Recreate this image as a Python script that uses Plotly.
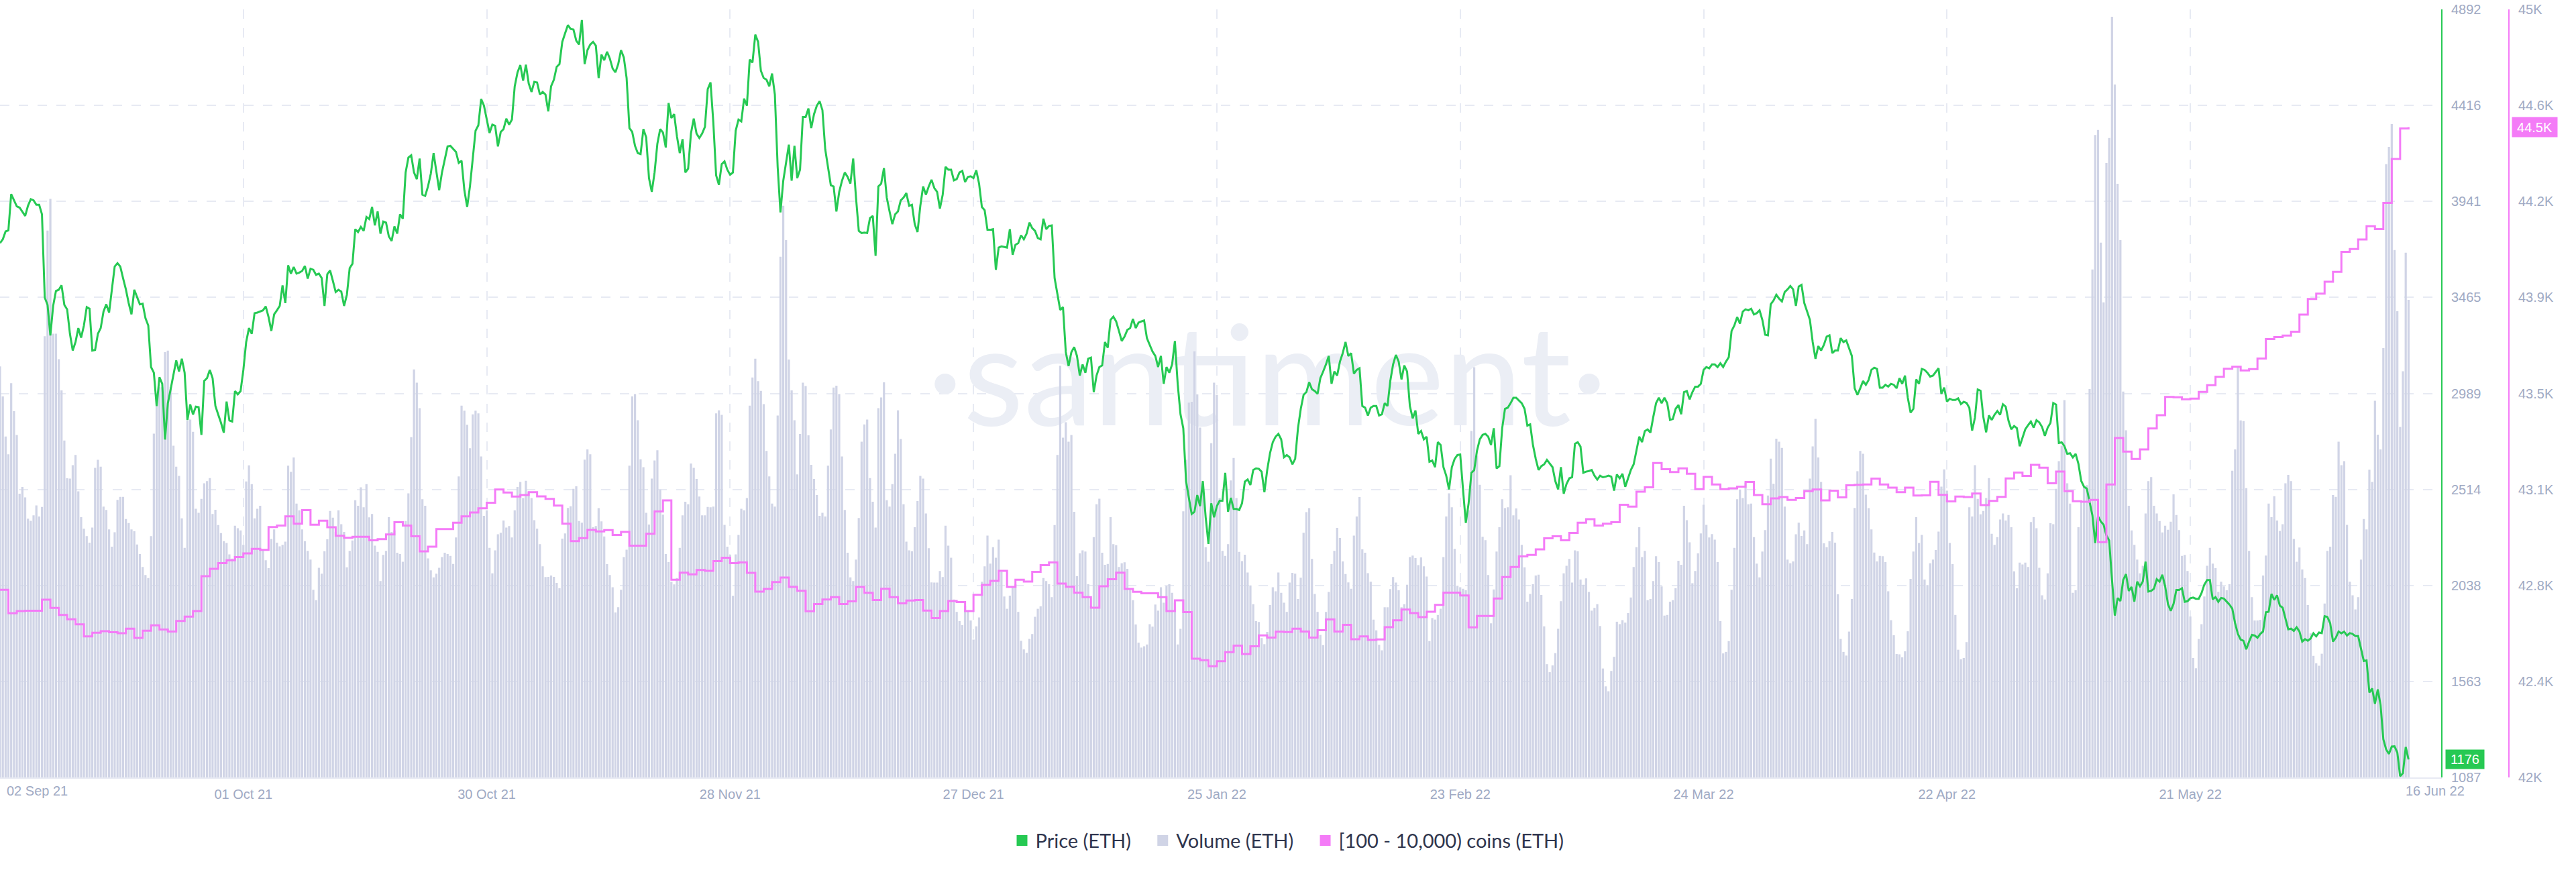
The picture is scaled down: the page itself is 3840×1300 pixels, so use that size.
import pandas as pd
import plotly.graph_objects as go

# values, one every 8 hours (holders: one a day)
start_date = "2021-09-02"

price = [
    3734, 3753, 3792, 3797, 3977, 3946, 3916, 3910, 3891, 3869, 3919, 3952, 3946, 3924, 3924, 3877, 3464, 3428, 3277, 3423,
    3497, 3503, 3525, 3428, 3406, 3285, 3202, 3244, 3313, 3266, 3326, 3417, 3409, 3202, 3205, 3285, 3313, 3395, 3431, 3390,
    3505, 3618, 3635, 3618, 3560, 3505, 3437, 3381, 3503, 3467, 3431, 3434, 3362, 3326, 3120, 3092, 2927, 3070, 3037, 2761,
    2941, 3010, 3087, 3153, 3098, 3161, 3092, 2858, 2935, 2885, 2924, 2921, 2784, 3051, 3065, 3106, 3065, 2927, 2885, 2844,
    2795, 2949, 2855, 2850, 3001, 2985, 3001, 3106, 3244, 3313, 3285, 3387, 3390, 3395, 3401, 3420, 3368, 3299, 3381, 3401,
    3423, 3525, 3437, 3624, 3583, 3616, 3583, 3588, 3596, 3621, 3558, 3607, 3602, 3577, 3583, 3561, 3423, 3580, 3599, 3547,
    3492, 3503, 3494, 3423, 3478, 3610, 3632, 3803, 3789, 3814, 3795, 3864, 3853, 3913, 3822, 3891, 3781, 3841, 3836, 3767,
    3745, 3817, 3781, 3877, 3855, 4084, 4158, 4169, 4084, 4051, 4153, 3974, 3968, 4015, 4078, 4180, 4084, 3996, 4084, 4153,
    4213, 4216, 4202, 4186, 4131, 4142, 3996, 3913, 4015, 4153, 4291, 4318, 4448, 4415, 4346, 4280, 4321, 4315, 4213, 4285,
    4299, 4351, 4321, 4346, 4511, 4580, 4616, 4539, 4618, 4525, 4483, 4533, 4530, 4470, 4483, 4470, 4387, 4511, 4544, 4607,
    4621, 4731, 4773, 4814, 4795, 4792, 4737, 4718, 4839, 4621, 4690, 4718, 4731, 4712, 4552, 4668, 4640, 4682, 4649, 4599,
    4580, 4621, 4690, 4654, 4552, 4304, 4285, 4216, 4180, 4175, 4299, 4258, 4056, 3988, 4084, 4227, 4299, 4282, 4208, 4428,
    4354, 4373, 4263, 4180, 4249, 4084, 4103, 4277, 4351, 4277, 4255, 4277, 4310, 4497, 4530, 4332, 4070, 4023, 4125, 4139,
    4098, 4073, 4084, 4291, 4346, 4337, 4450, 4415, 4643, 4629, 4767, 4731, 4588, 4552, 4544, 4511, 4574, 4470, 4112, 3886,
    4043, 4139, 4222, 4043, 4216, 4056, 4098, 4359, 4359, 4401, 4304, 4373, 4415, 4437, 4393, 4200, 4112, 4021, 4015, 3891,
    3988, 4043, 4084, 4062, 4029, 4153, 3960, 3795, 3784, 3786, 3784,
    3858, 3869, 3671, 4015, 4029, 4106, 3960, 3891, 3828, 3877, 3891, 3946, 3960, 3982, 3919, 3924, 3828, 3789, 3919, 4015,
    3974, 4015, 4048, 4007, 3988, 3905, 3974, 4112, 4098, 4098, 4045, 4051, 4084, 4092, 4037, 4062, 4065, 4056, 4095, 4029,
    3913, 3897, 3800, 3800, 3803, 3602, 3712, 3718, 3715, 3712, 3803, 3676, 3726, 3734, 3773, 3753, 3781, 3836, 3808, 3795,
    3759, 3753, 3855, 3803, 3819, 3822, 3561, 3478, 3403, 3417, 3194, 3125, 3194, 3219, 3175, 3078, 3133, 3092, 3161, 3167,
    2996, 3078, 3120, 3128, 3244, 3216, 3354, 3370, 3346, 3299, 3249, 3271, 3304, 3313, 3359, 3313, 3340, 3346, 3351, 3263,
    3230, 3197, 3175, 3120, 3175, 3037, 3120, 3092, 3133, 3249, 3037, 2886, 2817, 2555, 2472, 2392, 2403, 2486, 2431, 2555,
    2376, 2244, 2445, 2376, 2431, 2458, 2458, 2596, 2403, 2472, 2417, 2417, 2412, 2445, 2552, 2563, 2536, 2610, 2618, 2616,
    2602, 2500, 2610, 2693, 2748, 2775, 2789, 2762, 2673, 2684, 2673, 2638, 2665, 2817, 2913, 2982, 2996, 3045, 3010, 3001,
    2987, 3065, 3098, 3133, 3175, 3037, 3098, 3078, 3147, 3189, 3244, 3175, 3189, 3087, 3106, 3114, 2927, 2919, 2880, 2919,
    2927, 2927, 2880, 2886, 2941, 2927, 3051, 3133, 3180, 3147, 3059, 3128, 3098, 2927, 2866, 2905, 2789, 2803, 2762, 2775,
    2651, 2657, 2624, 2748, 2734, 2624, 2582, 2514, 2624, 2665, 2684, 2687, 2514, 2348, 2445, 2596, 2610, 2706, 2762, 2784,
    2789, 2775, 2734, 2817, 2618, 2629, 2817, 2913, 2919, 2941, 2968, 2968, 2954, 2941, 2913, 2830, 2836, 2734, 2665, 2610,
    2629, 2638, 2660, 2643, 2624, 2555, 2514, 2624, 2492, 2541, 2569, 2574, 2740, 2748, 2726, 2596, 2602, 2605, 2610, 2582,
    2563, 2582, 2574, 2577, 2582, 2577, 2508, 2588, 2569, 2591, 2527, 2569, 2610, 2638, 2706, 2775, 2748, 2803, 2811, 2795,
    2872, 2941, 2968, 2941, 2968, 2941, 2858, 2863, 2913, 2932, 2886, 2996, 3001, 2960, 2996, 3023, 3023, 3037, 3106, 3120,
    3114, 3133, 3133, 3120, 3139, 3120, 3147, 3169,
    3299, 3326, 3368, 3335, 3395, 3406, 3401, 3409, 3381, 3387, 3401, 3354, 3280, 3277, 3431, 3450, 3478, 3459, 3445, 3492,
    3505, 3522, 3505, 3423, 3519, 3527, 3437, 3395, 3354, 3244, 3161, 3224, 3202, 3230, 3271, 3277, 3189, 3202, 3202, 3263,
    3244, 3252, 3216, 3175, 3015, 2982, 3015, 3051, 3032, 3056, 3106, 3117, 3111, 3018, 3018, 3032, 3023, 3037, 3032, 3015,
    3065, 3037, 3078, 2968, 2894, 2913, 3059, 3037, 3111, 3106, 3092, 3073, 3078, 3098, 3114, 2987, 3018, 2949, 2963,
    2957, 2957, 2965, 2937, 2948, 2942, 2918, 2805, 2869, 3009, 3003, 2873, 2797, 2881, 2858, 2884, 2902, 2884, 2936, 2924,
    2854, 2812, 2828, 2817, 2728, 2774, 2812, 2832, 2850, 2820, 2857, 2846, 2823, 2779, 2820, 2843, 2942, 2934, 2744, 2747,
    2728, 2690, 2693, 2672, 2690, 2640, 2556, 2527, 2518, 2451, 2385, 2248, 2381, 2355, 2339, 2286, 2260, 2065, 1889, 1976,
    1961, 2065, 2094, 2011, 2031, 1958, 2057, 2034, 2057, 2156, 2008, 2011, 2022, 2069, 2057, 2091, 2034, 1946, 1912, 1947,
    2016, 2016, 2024, 1957, 1960, 1975, 1978, 1972, 1972, 2000, 2042, 2065, 2065, 1969, 1981, 1957, 1976, 1973, 1958, 1943,
    1923, 1851, 1798, 1770, 1764, 1722, 1760, 1793, 1790, 1779, 1798, 1810, 1905, 1908, 1996, 1966, 1989, 1938, 1928, 1874,
    1821, 1824, 1813, 1831, 1810, 1760, 1772, 1764, 1775, 1801, 1786, 1805, 1802, 1886, 1882, 1851, 1760, 1779, 1810, 1801,
    1809, 1790, 1802, 1798, 1787, 1787, 1722, 1664, 1667, 1508, 1528, 1452, 1523, 1447, 1276, 1226, 1203, 1240, 1241, 1210,
    1093, 1108, 1238, 1176,
]

volume = [
    1336, 1238, 1108, 1050, 1281, 1190, 1113, 922, 944, 910, 841, 834, 852, 884, 848, 879, 1434, 1777, 1880, 1442,
    1442, 1359, 1258, 1095, 972, 971, 1015, 1048, 930, 846, 808, 784, 763, 812, 1006, 1032, 1010, 880, 869, 806,
    750, 797, 902, 912, 912, 840, 827, 806, 800, 757, 726, 684, 658, 648, 784, 1117, 1218, 1268, 1268, 1382,
    1387, 1268, 1078, 1010, 980, 842, 746, 1160, 1163, 1123, 873, 860, 905, 956, 963, 973, 856, 870, 820, 794,
    768, 762, 725, 711, 818, 810, 803, 756, 962, 1014, 953, 842, 873, 883, 738, 706, 680, 775, 806, 763,
    751, 756, 766, 1013, 993, 1040, 890, 868, 806, 768, 736, 708, 610, 576, 681, 662, 735, 774, 866, 844,
    798, 868, 823, 798, 683, 736, 770, 901, 883, 943, 878, 953, 845, 856, 753, 733, 638, 723, 736, 846,
    798, 803, 730, 726, 701, 833, 923, 1106, 1326, 1283, 1200, 904, 883, 712, 673, 650, 662, 681, 716, 730,
    726, 720, 694, 780, 978, 1208, 1192, 1146, 1070, 1180, 1192, 1183, 1043, 850, 868,
    746, 663, 738, 790, 795, 835, 812, 817, 780, 868, 944, 960, 908, 964, 928, 908, 836, 808, 758, 686,
    651, 652, 656, 652, 632, 615, 776, 793, 876, 881, 938, 946, 833, 828, 1033, 1066, 1050, 813, 817, 875,
    832, 783, 693, 658, 618, 536, 553, 610, 716, 740, 1013, 1238, 1246, 1161, 1034, 1008, 860, 822, 971, 1030,
    1063, 936, 854, 726, 700, 636, 627, 648, 746, 852, 896, 888, 1020, 1006, 970, 913, 852, 852, 879, 878,
    880, 1183, 1193, 1178, 821, 750, 723, 590, 725, 788, 873, 868, 908, 1208, 1300, 1361, 1288, 1256, 1213, 1061,
    978, 890, 880, 1176, 1692, 1858, 1746, 1358, 1258, 1161, 985, 1116, 1283, 1272, 1112, 1016, 970, 918, 850, 860,
    848, 1013, 1131, 1267, 1273, 1246, 1043, 869, 730, 650, 638, 708, 843, 1091, 1147, 1163, 973, 896, 812, 1200,
    1235, 1284, 901, 880, 953, 1052, 1193, 1100, 888, 766, 738, 735, 813, 898, 980, 971, 858, 745, 634, 633,
    633, 671, 651, 818, 753, 714, 578, 538, 508, 495, 558, 543, 510, 448, 491,
    520, 636, 686, 786, 695, 748, 714, 773, 668, 588, 548, 591, 618, 628, 538, 444, 416, 405, 450, 466,
    522, 548, 556, 648, 638, 628, 586, 820, 1048, 1338, 1104, 1154, 1091, 1113, 863, 654, 728, 738, 734, 628,
    558, 781, 888, 906, 730, 691, 694, 846, 758, 755, 684, 696, 699, 678, 613, 576, 497, 438, 422, 426,
    432, 498, 490, 562, 542, 618, 568, 622, 628, 600, 568, 432, 483, 865, 1033, 1218, 1221, 1385, 1245, 1137,
    928, 748, 701, 1086, 1283, 1243, 908, 736, 720, 758, 965, 1038, 908, 733, 703, 724, 666, 624, 563, 508,
    505, 453, 433, 473, 560, 618, 605, 666, 600, 568, 538, 633, 665, 662, 580, 649, 795, 862, 875, 710,
    596, 538, 463, 430, 538, 603, 693, 736, 811, 778, 702, 661, 634, 613, 786, 848, 911, 741, 730, 664,
    636, 513, 478, 431, 413, 553, 553, 612, 651, 633, 608, 553, 563, 626, 716, 721, 713, 690, 715, 686,
    653, 443, 518, 513, 528, 548, 716, 848, 923, 878, 743, 623, 618, 613,
    608, 868, 1126, 1333, 1046, 951, 782, 771, 658, 501, 611, 734, 813, 904, 875, 878, 982, 852, 874, 838,
    756, 683, 571, 596, 628, 656, 659, 593, 491, 368, 342, 364, 404, 483, 573, 663, 688, 710, 633, 738,
    735, 643, 626, 647, 603, 542, 551, 563, 492, 354, 296, 280, 346, 392, 506, 498, 511, 503, 534, 585,
    684, 748, 813, 716, 736, 576, 580, 638, 719, 700, 621, 526, 528, 571, 576, 615, 704, 691, 883, 836,
    764, 631, 671, 728, 793, 886, 821, 780, 791, 773, 700, 508, 403, 408, 443, 610, 746, 904, 936, 908,
    958, 888, 890, 781, 695, 650, 734, 804, 916, 1036, 954, 1101, 1091, 1071, 880, 708, 696, 702, 790, 828,
    785, 803, 758, 971, 1076, 1165, 1040, 960, 761, 748, 768, 798, 763, 595, 450, 408, 396, 474, 580, 876,
    995, 1061, 1052, 919, 875, 806, 731, 702, 720, 719, 700, 605, 511, 462, 401, 400, 390, 410, 475, 645,
    734, 846, 762, 788, 643, 625, 696, 708, 739, 799, 945, 1001, 932, 762,
    693, 528, 415, 384, 388, 440, 878, 848, 1015, 905, 855, 866, 908, 973, 792, 756, 781, 838, 858, 835,
    853, 813, 670, 615, 698, 692, 698, 684, 830, 846, 810, 681, 592, 578, 663, 826, 823, 938, 1028, 1078,
    1226, 956, 890, 600, 608, 813, 900, 943, 950, 1262, 1651, 2088, 2104, 1738, 1544, 1997, 2078, 2472, 2252, 1929,
    1746, 1254, 1128, 883, 803, 756, 708, 663, 688, 858, 963, 976, 883, 858, 833, 796, 818, 805, 831, 920, 853,
    804, 720, 723, 671, 523, 388, 355, 450, 498, 588, 688, 746, 695, 680, 603, 636, 621, 608, 628, 997,
    1066, 1336, 1160, 1158, 940, 736, 586, 510, 510, 512, 656, 721, 890, 846, 914, 835, 801, 823, 956, 983,
    963, 775, 701, 747, 676, 648, 560, 468, 395, 371, 363, 402, 565, 736, 750, 918, 912, 1091, 1015, 1028, 821,
    636, 592, 546, 586, 708, 840, 806, 1000, 960, 1224, 1114, 1066, 1395, 1993, 2049, 2123, 1714, 1515, 1139, 1320,
    1705, 1552,
]

holders = [
    42733, 42641, 42650, 42651, 42651, 42694, 42662, 42635, 42618, 42598, 42551, 42565, 42571, 42567, 42563, 42581, 42545, 42573, 42594, 42578,
    42570, 42611, 42628, 42650, 42786, 42815, 42837, 42848, 42861, 42875, 42893, 42889, 42978, 42984, 43020, 42991, 43044, 42987, 43003, 42977,
    42944, 42936, 42940, 42940, 42926, 42931, 42949, 42997, 42984, 42942, 42883, 42901, 42970, 42970, 42995, 43020, 43035, 43051,
    43073, 43125, 43113, 43097, 43103, 43114, 43098, 43088, 43062, 42991, 42923, 42935, 42967, 42961, 42966, 42947, 42959, 42905, 42905, 42952,
    43039, 43082, 42772, 42800, 42793, 42810, 42807, 42845, 42858, 42837, 42840, 42799, 42726, 42736, 42763, 42781, 42744, 42729, 42649, 42677,
    42695, 42704, 42677, 42688, 42744, 42721, 42693, 42737, 42704, 42680, 42691, 42693, 42652, 42622, 42650, 42689, 42685, 42650,
    42713, 42752, 42768, 42807, 42744, 42772, 42765, 42803, 42829, 42840, 42757, 42745, 42722, 42704, 42663, 42747, 42774, 42800, 42736, 42725,
    42719, 42719, 42704, 42650, 42692, 42646, 42464, 42458, 42434, 42454, 42489, 42515, 42482, 42512, 42555, 42546, 42569, 42568, 42581, 42570,
    42546, 42575, 42617, 42570, 42596, 42540, 42551, 42537, 42539, 42587, 42614, 42656, 42642, 42626, 42647, 42674, 42722, 42722,
    42711, 42586, 42631, 42631, 42699, 42783, 42822, 42863, 42869, 42891, 42934, 42942, 42926, 42955, 42995, 43009, 42984, 42991, 42997, 43065,
    43058, 43116, 43133, 43228, 43204, 43193, 43207, 43186, 43126, 43174, 43144, 43126, 43129, 43136, 43154, 43103, 43067, 43090, 43095, 43084,
    43091, 43118, 43125, 43082, 43120, 43094, 43141, 43143, 43144, 43167, 43144, 43132, 43114, 43132, 43101, 43102, 43155, 43104,
    43078, 43097, 43095, 43109, 43064, 43080, 43096, 43168, 43191, 43178, 43221, 43210, 43149, 43195, 43118, 43079, 43077, 43084, 42919, 43144,
    43326, 43273, 43244, 43281, 43363, 43415, 43486, 43485, 43477, 43480, 43506, 43532, 43565, 43596, 43604, 43590, 43595, 43636, 43712, 43720,
    43726, 43741, 43808, 43869, 43890, 43936, 43975, 44053, 44064, 44101, 44153, 44142, 44244, 44416, 44535, 44540,
]

date_ticks = ["2021-09-02", "2021-10-01", "2021-10-30", "2021-11-28", "2021-12-27", "2022-01-25", "2022-02-23", "2022-03-24", "2022-04-22", "2022-05-21"]
date_labels = ["", "01 Oct 21", "30 Oct 21", "28 Nov 21", "27 Dec 21", "25 Jan 22", "23 Feb 22", "24 Mar 22", "22 Apr 22", "21 May 22"]
price_ticks = [1087, 1563, 2038, 2514, 2989, 3465, 3941, 4416, 4892]
holder_ticks = [42000, 42375, 42750, 43125, 43500, 43875, 44250, 44625, 45000]
holder_labels = ["42K", "42.4K", "42.8K", "43.1K", "43.5K", "43.9K", "44.2K", "44.6K", "45K"]

GREEN = "#26c953"
PINK = "#f47bf7"
BAR = "#d0d4e6"
GREY = "#9faac4"
GRID = "#e7eaf3"

price_dates = pd.date_range(start_date, periods=len(price), freq="8h")
volume_dates = pd.date_range(start_date, periods=len(volume), freq="8h")
holder_dates = pd.date_range(start_date, periods=len(holders), freq="D")

fig = go.Figure()

# watermark sits on the bottom axis so that everything else is drawn over it
fig.add_trace(go.Scatter(x=["2022-01-31"], y=[0.504], mode="text", text=["·santiment·"],
                         textfont=dict(family="Lato", size=208, color="#ebeef5"),
                         showlegend=False, hoverinfo="skip", yaxis="y"))

fig.add_trace(go.Bar(x=volume_dates, y=volume, name="Volume (ETH)", marker=dict(color=BAR, line_width=0),
                     showlegend=False, yaxis="y2"))
fig.add_trace(go.Scatter(x=price_dates, y=price, name="Price (ETH)", mode="lines",
                         line=dict(color=GREEN, width=3), showlegend=False, yaxis="y3"))
fig.add_trace(go.Scatter(x=holder_dates, y=holders, name="[100 - 10,000) coins (ETH)", mode="lines",
                         line=dict(color=PINK, width=3, shape="hv"), showlegend=False, yaxis="y4"))

# legend swatches, the no-break spaces open up the gaps between the entries
for name, color in [("Price (ETH)\u00a0\u00a0\u00a0", GREEN), ("Volume (ETH)\u00a0\u00a0\u00a0", BAR),
                    ("[100 - 10,000) coins (ETH)", PINK)]:
    fig.add_trace(go.Scatter(x=[None], y=[None], mode="markers", name=name,
                             marker=dict(symbol="square", size=18, color=color), yaxis="y3"))

fig.update_layout(
    width=3840,
    height=1300,
    margin=dict(l=0, r=0, t=14, b=141, autoexpand=False),
    plot_bgcolor="white",
    paper_bgcolor="white",
    bargap=0.23,
    font=dict(family="Liberation Sans", size=20, color=GREY),
    legend=dict(orientation="h", x=0.5, xanchor="center", y=-0.06, yanchor="top",
                font=dict(family="Lato", size=29, color="#2f354d"), itemclick=False),
    xaxis=dict(domain=[0, 3640 / 3840], type="date", range=["2021-09-02", "2022-06-19 23:15"],
               tickmode="array", tickvals=date_ticks, ticktext=date_labels,
               ticks="outside", ticklen=6, tickcolor="rgba(0,0,0,0)",
               showgrid=True, gridcolor=GRID, gridwidth=2, griddash="14px,14px",
               showline=True, linecolor=GRID, linewidth=2, zeroline=False, automargin=False),
    yaxis=dict(range=[0, 1], tickmode="array", tickvals=[i / 8 for i in range(9)], showticklabels=False,
               showgrid=True, gridcolor=GRID, gridwidth=2, griddash="14px,14px", zeroline=False, automargin=False),
    yaxis2=dict(range=[0, 2496], overlaying="y", visible=False),
    yaxis3=dict(range=[1087, 4892], overlaying="y", anchor="free", position=3640 / 3840, side="right",
                tickmode="array", tickvals=price_ticks, showgrid=False, zeroline=False,
                showline=True, linecolor=GREEN, linewidth=2,
                ticks="outside", ticklen=9, tickcolor="rgba(0,0,0,0)", automargin=False),
    yaxis4=dict(range=[42000, 45000], overlaying="y", anchor="free", position=3740 / 3840, side="right",
                tickmode="array", tickvals=holder_ticks, ticktext=holder_labels, showgrid=False, zeroline=False,
                showline=True, linecolor=PINK, linewidth=2,
                ticks="outside", ticklen=9, tickcolor="rgba(0,0,0,0)", automargin=False),
)

# end labels of the date axis and the value tags
fig.add_annotation(text="02 Sep 21", x=8 / 3840, xref="paper", xanchor="left", y=-0.0175, yref="paper",
                   yanchor="middle", showarrow=False)
fig.add_annotation(text="16 Jun 22", x=3630 / 3840, xref="paper", xanchor="center", y=-0.0175, yref="paper",
                   yanchor="middle", showarrow=False)
fig.add_annotation(text=str(price[-1]), x=3674 / 3840, xref="paper", xanchor="center", y=price[-1], yref="y3",
                   showarrow=False, bgcolor=GREEN, width=55, height=26, font=dict(color="white", size=20))
fig.add_annotation(text="44.5K", x=3778 / 3840, xref="paper", xanchor="center", y=holders[-1], yref="y4",
                   showarrow=False, bgcolor=PINK, width=65, height=27, font=dict(color="white", size=20))

# the page's default body margin would push the chart 8px off
fig.write_html("out.html", config={"displayModeBar": False}, post_script="document.body.style.margin = '0';")
